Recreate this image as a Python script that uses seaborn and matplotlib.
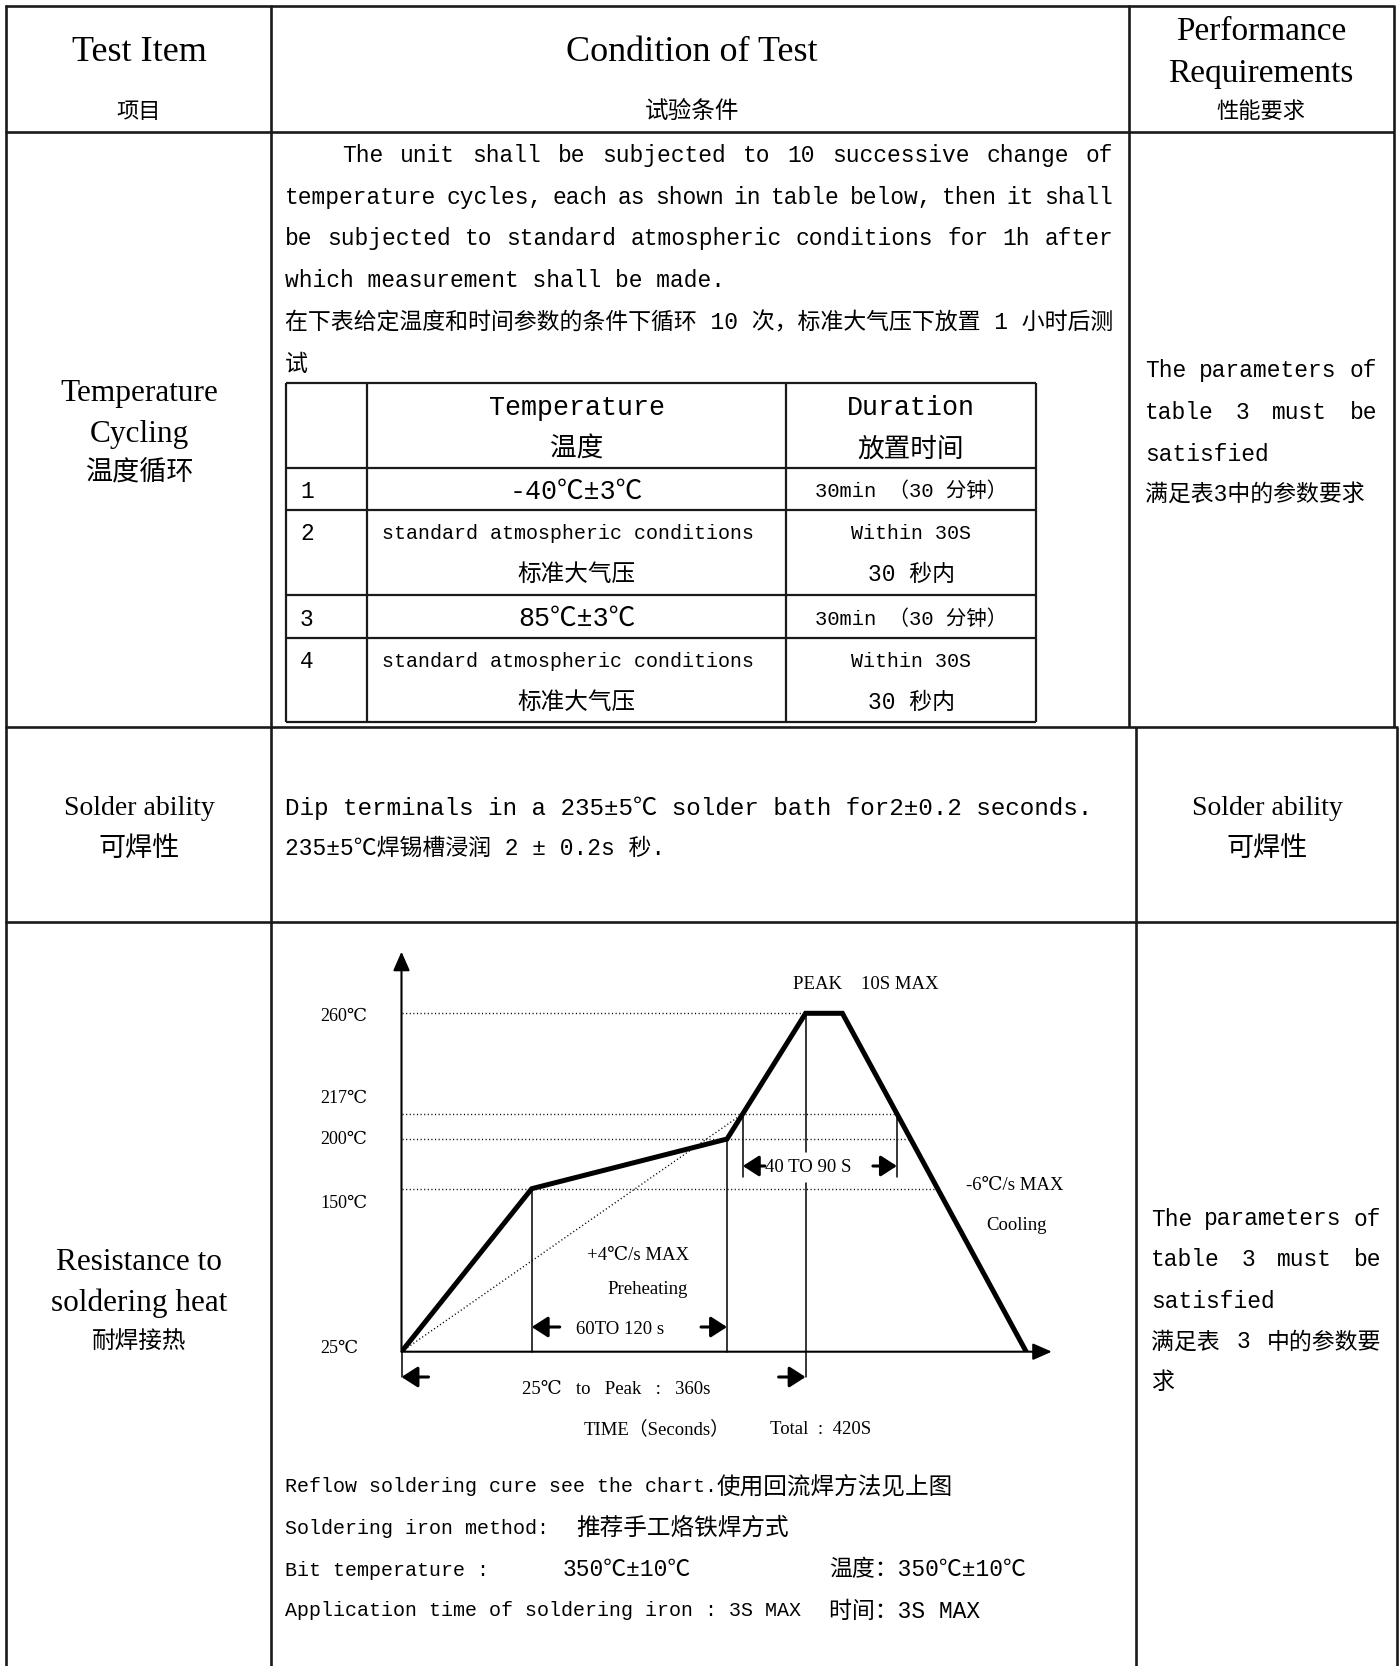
import matplotlib
matplotlib.use("Agg")
import matplotlib.pyplot as plt
import numpy as np
import seaborn as sns


# Reflow profile (schematic): time in seconds, temperature in degC.
PROFILE_TIME = [0, 116, 290, 360, 370, 420]
PROFILE_TEMP = [25, 150, 200, 260, 260, 25]
TEMP_LEVELS = [25, 150, 200, 217, 260]
TEMP_LABELS = ["25℃", "150℃", "200℃", "217℃", "260℃"]
DOTTED_LEVELS = [150, 200, 217, 260]

# Temperature cycling steps.
CYCLE_STEPS = ["1", "2", "3", "4"]
CYCLE_TEMPS = ["-40℃±3℃", "standard atmospheric conditions", "85℃±3℃", "standard atmospheric conditions"]
CYCLE_TEMPS_CN = ["", "标准大气压", "", "标准大气压"]
CYCLE_TIMES = ["30min （30 分钟）", "Within 30S", "30min （30 分钟）", "Within 30S"]
CYCLE_TIMES_CN = ["", "30 秒内", "", "30 秒内"]

W, H = 1399, 1666
SERIF = ["Liberation Serif", "DejaVu Serif", "Noto Sans CJK SC"]
MONO = ["Liberation Mono", "Noto Sans CJK SC"]
CJK = ["Noto Sans CJK SC", "DejaVu Sans"]

sns.set_theme(style="white")
plt.rcParams["font.family"] = MONO

fig = plt.figure(figsize=(W / 100, H / 100), dpi=100)
ax0 = fig.add_axes([0, 0, 1, 1])
ax0.set_xlim(0, W)
ax0.set_ylim(H, 0)
ax0.axis("off")
renderer = fig.canvas.get_renderer()


def largura(texto, size, family):
    t = ax0.text(0, 0, texto, fontsize=size, family=family)
    w = t.get_window_extent(renderer).width
    t.remove()
    return w


def escrever(x, y, texto, size, family=MONO, ha="left"):
    ax0.text(x, y, texto, fontsize=size, family=family, ha=ha, va="center", color="black")


def justificar(x0, x1, y, texto, size, family=MONO):
    palavras = texto.split()
    larguras = [largura(p, size, family) for p in palavras]
    gap = (x1 - x0 - sum(larguras)) / max(len(palavras) - 1, 1)
    x = x0
    for p, w in zip(palavras, larguras):
        escrever(x, y, p, size, family)
        x += w + gap


# ---------------- table grid ----------------
LW = 1.9
ax0.hlines([6, 132], 5, 1394, color="k", lw=LW)
ax0.hlines([727, 922], 5, 1398, color="k", lw=LW)
ax0.vlines(6, 5, H, color="k", lw=LW)
ax0.vlines(271, 5, H, color="k", lw=LW)
ax0.vlines([1129, 1394], 5, 727, color="k", lw=LW)
ax0.vlines([1136, 1397], 727, H, color="k", lw=LW)

# header
escrever(139, 52, "Test Item", 26, SERIF, "center")
escrever(139, 111, "项目", 16, CJK, "center")
escrever(692, 52, "Condition of Test", 26, SERIF, "center")
escrever(692, 111, "试验条件", 17, CJK, "center")
escrever(1261, 32, "Performance", 24, SERIF, "center")
escrever(1261, 74, "Requirements", 24, SERIF, "center")
escrever(1261, 111, "性能要求", 16, CJK, "center")

# ---------------- temperature cycling ----------------
escrever(139, 393, "Temperature", 22.5, SERIF, "center")
escrever(139, 434, "Cycling", 22.5, SERIF, "center")
escrever(139, 472, "温度循环", 19.5, CJK, "center")

justificar(342, 1113, 155, "The unit shall be subjected to 10 successive change of", 16.5)
justificar(285, 1113, 197, "temperature cycles, each as shown in table below, then it shall", 16.5)
justificar(285, 1113, 238, "be subjected to standard atmospheric conditions for 1h after", 16.5)
escrever(285, 280, "which measurement shall be made.", 16.5)
escrever(285, 323, "在下表给定温度和时间参数的条件下循环 10 次，标准大气压下放置 1 小时后测", 16.5)
escrever(285, 364, "试", 16.5)

# inner table
xs_in = [286, 367, 786, 1036]
ys_in = [383, 467.5, 509.5, 595, 637.5, 722]
ax0.hlines(ys_in, xs_in[0], xs_in[-1], color="k", lw=1.6)
ax0.vlines(xs_in, ys_in[0], ys_in[-1], color="k", lw=1.6)
cx_temp = (xs_in[1] + xs_in[2]) / 2
cx_dur = (xs_in[2] + xs_in[3]) / 2
escrever(cx_temp, 408, "Temperature", 19.2, MONO, "center")
escrever(cx_temp, 450, "温度", 19.2, MONO, "center")
escrever(cx_dur, 408, "Duration", 19.2, MONO, "center")
escrever(cx_dur, 450, "放置时间", 19.2, MONO, "center")
for i, passo in enumerate(CYCLE_STEPS):
    y_top, y_bot = ys_in[i + 1], ys_in[i + 2]
    escrever(300, y_top + 24, passo, 16.5)
    if CYCLE_TEMPS_CN[i]:
        escrever(cx_temp - 8, y_top + 24, CYCLE_TEMPS[i], 14.4, MONO, "center")
        escrever(cx_temp, y_top + 65, CYCLE_TEMPS_CN[i], 17, MONO, "center")
        escrever(cx_dur, y_top + 24, CYCLE_TIMES[i], 14.4, MONO, "center")
        escrever(cx_dur, y_top + 65, CYCLE_TIMES_CN[i], 16.5, MONO, "center")
    else:
        escrever(cx_temp, (y_top + y_bot) / 2 + 3, CYCLE_TEMPS[i], 19.2, MONO, "center")
        escrever(cx_dur, (y_top + y_bot) / 2 + 3, CYCLE_TIMES[i], 14.8, MONO, "center")

justificar(1145, 1377, 370, "The parameters of", 16.5)
justificar(1145, 1377, 412, "table 3 must be", 16.5)
escrever(1145, 454, "satisfied", 16.5)
escrever(1145, 494, "满足表3中的参数要求", 16.5)

# ---------------- solder ability ----------------
escrever(139, 808, "Solder ability", 20, SERIF, "center")
escrever(139, 849, "可焊性", 19.5, CJK, "center")
escrever(285, 808, "Dip terminals in a 235±5℃ solder bath for2±0.2 seconds.", 17.5)
escrever(285, 848, "235±5℃焊锡槽浸润 2 ± 0.2s 秒.", 16.5)
escrever(1267, 808, "Solder ability", 20, SERIF, "center")
escrever(1267, 849, "可焊性", 19.5, CJK, "center")

# ---------------- resistance to soldering heat ----------------
escrever(139, 1262, "Resistance to", 22.5, SERIF, "center")
escrever(139, 1303, "soldering heat", 22.5, SERIF, "center")
escrever(139, 1341, "耐焊接热", 17, CJK, "center")

justificar(1151, 1381, 1219, "The parameters of", 16.5)
justificar(1151, 1381, 1260, "table 3 must be", 16.5)
escrever(1151, 1301, "satisfied", 16.5)
justificar(1151, 1381, 1342, "满足表 3 中的参数要", 16.5)
escrever(1151, 1382, "求", 16.5)

escrever(285, 1487, "Reflow soldering cure see the chart.", 14.4)
escrever(285 + largura("Reflow soldering cure see the chart.", 14.4, MONO), 1487,
         "使用回流焊方法见上图", 17, CJK)
escrever(285, 1528, "Soldering iron method:", 14.4)
escrever(576, 1528, "推荐手工烙铁焊方式", 17, CJK)
escrever(285, 1570, "Bit temperature :", 14.4)
escrever(563, 1570, "350℃±10℃", 16.5)
escrever(829, 1570, "温度：350℃±10℃", 16.5)
escrever(285, 1611, "Application time of soldering iron : 3S MAX", 14.4)
escrever(829, 1611, "时间：3S MAX", 16.5)


# ---------------- reflow chart ----------------
def por_partes(xs, ys):
    xs = np.asarray(xs, float)
    ys = np.asarray(ys, float)
    s_lo = (ys[1] - ys[0]) / (xs[1] - xs[0])
    s_hi = (ys[-1] - ys[-2]) / (xs[-1] - xs[-2])

    def f(v):
        v = np.asarray(v, float)
        out = np.interp(v, xs, ys)
        out = np.where(v < xs[0], ys[0] + (v - xs[0]) * s_lo, out)
        out = np.where(v > xs[-1], ys[-1] + (v - xs[-1]) * s_hi, out)
        return out

    return f


# schematic (non-linear) axis layout, in pixels of the page
X_NODES_PX = [401.5, 805.6, 1026.2]
Y_NODES_PX = [1351.7, 1188.7, 1139.0, 1113.7, 1013.3]
x_nodes_t = [PROFILE_TIME[0], PROFILE_TIME[3], PROFILE_TIME[-1]]
xf = por_partes(x_nodes_t, X_NODES_PX)
xi = por_partes(X_NODES_PX, x_nodes_t)
yf = por_partes(TEMP_LEVELS, [-p for p in Y_NODES_PX])
yi = por_partes([-p for p in Y_NODES_PX], TEMP_LEVELS)

left_px, right_px, top_px, bot_px = 401.5, 1051.8, 951.7, 1351.7
ax = fig.add_axes([left_px / W, 1 - bot_px / H, (right_px - left_px) / W, (bot_px - top_px) / H])
ax.patch.set_alpha(0)

sns.lineplot(x=PROFILE_TIME, y=PROFILE_TEMP, ax=ax, color="black", linewidth=3.6,
             sort=False, estimator=None, solid_joinstyle="miter")
ax.set_xscale("function", functions=(xf, xi))
ax.set_yscale("function", functions=(yf, yi))
ax.set_xlim(float(xi(left_px)), float(xi(right_px)))
ax.set_ylim(float(yi(-bot_px)), float(yi(-top_px)))
ax.set_xticks([])
ax.set_yticks([])
ax.set_xlabel("")
ax.set_ylabel("")
for sp in ax.spines.values():
    sp.set_visible(False)


def cruza(i0, i1, nivel):
    """Time where segment i0->i1 of the profile reaches a level (straight on the page)."""
    p0x, p1x = xf(PROFILE_TIME[i0]), xf(PROFILE_TIME[i1])
    p0y, p1y = yf(PROFILE_TEMP[i0]), yf(PROFILE_TEMP[i1])
    frac = (yf(nivel) - p0y) / (p1y - p0y)
    return float(xi(p0x + frac * (p1x - p0x)))


t_up217 = cruza(2, 3, 217)
t_dn217 = cruza(4, 5, 217)
dotted = (0, (0.8, 1.8))
for lvl in DOTTED_LEVELS:
    ax.plot([0, cruza(4, 5, lvl)], [lvl, lvl], color="black", lw=1.0, ls=dotted, zorder=1)
ax.plot([0, t_up217], [PROFILE_TEMP[0], 217], color="black", lw=1.0, ls=dotted, zorder=1)

t_low = float(yi(-1177))
t_under = float(yi(-1377))
thin = dict(color="black", lw=1.1, clip_on=False, zorder=1)
ax.plot([PROFILE_TIME[1]] * 2, [PROFILE_TEMP[1], 25], **thin)
ax.plot([PROFILE_TIME[2]] * 2, [PROFILE_TEMP[2], 25], **thin)
ax.plot([t_up217] * 2, [217, t_low], **thin)
ax.plot([t_dn217] * 2, [217, t_low], **thin)
ax.plot([PROFILE_TIME[3]] * 2, [260, float(yi(-1152))], **thin)
ax.plot([PROFILE_TIME[3]] * 2, [float(yi(-1183)), t_under], **thin)
ax.plot([0, 0], [t_under, 25], **thin)

eixo = dict(arrowstyle="-|>,head_length=0.5,head_width=0.22", color="black", lw=1.5,
            mutation_scale=23, shrinkA=0, shrinkB=0)
ax.annotate("", xy=(0, ax.get_ylim()[1]), xytext=(0, 25), arrowprops=eixo, annotation_clip=False)
ax.annotate("", xy=(ax.get_xlim()[1], 25), xytext=(0, 25), arrowprops=eixo, annotation_clip=False)

# labels of the chart
LABEL_SHIFT = [-3, 15, 1, -15, 3]
for lvl, lab, sh in zip(TEMP_LEVELS, TEMP_LABELS, LABEL_SHIFT):
    escrever(320, -float(yf(lvl)) + sh, lab, 13, SERIF)

seta = dict(arrowstyle="-|>,head_length=0.7,head_width=0.45", color="black", lw=2.2,
            mutation_scale=14, shrinkA=0, shrinkB=0)


def seta_px(x_head, x_tail, y):
    ax0.annotate("", xy=(x_head, y), xytext=(x_tail, y), arrowprops=seta)


x_knee = float(xf(PROFILE_TIME[1]))
x_200 = float(xf(PROFILE_TIME[2]))
x_peak = float(xf(PROFILE_TIME[3]))
x_up = float(xf(t_up217))
x_dn = float(xf(t_dn217))

escrever(793, 984, "PEAK    10S MAX", 13.5, SERIF)
seta_px(x_up, x_up + 22, 1166)
escrever(x_up + 22, 1168, "40 TO 90 S", 13.5, SERIF)
seta_px(x_dn, x_dn - 24, 1166)
escrever(966, 1186, "-6℃/s MAX", 13.5, SERIF)
escrever(986, 1226, "Cooling", 13.5, SERIF)
escrever(587, 1256, "+4℃/s MAX", 13.5, SERIF)
escrever(607, 1290, "Preheating", 13.5, SERIF)
seta_px(x_knee, x_knee + 28, 1327)
escrever(576, 1329, "60TO 120 s", 13.5, SERIF)
seta_px(x_200, x_200 - 26, 1327)
seta_px(left_px, left_px + 27, 1377)
seta_px(x_peak, x_peak - 27, 1377)
escrever(616, 1390, "25℃   to   Peak   :   360s", 13.5, SERIF, "center")
escrever(584, 1429, "TIME（Seconds）", 13.5, SERIF)
escrever(770, 1429, "Total  :  420S", 13.5, SERIF)

fig.savefig("out.png", dpi=100, facecolor="white")
plt.close(fig)
